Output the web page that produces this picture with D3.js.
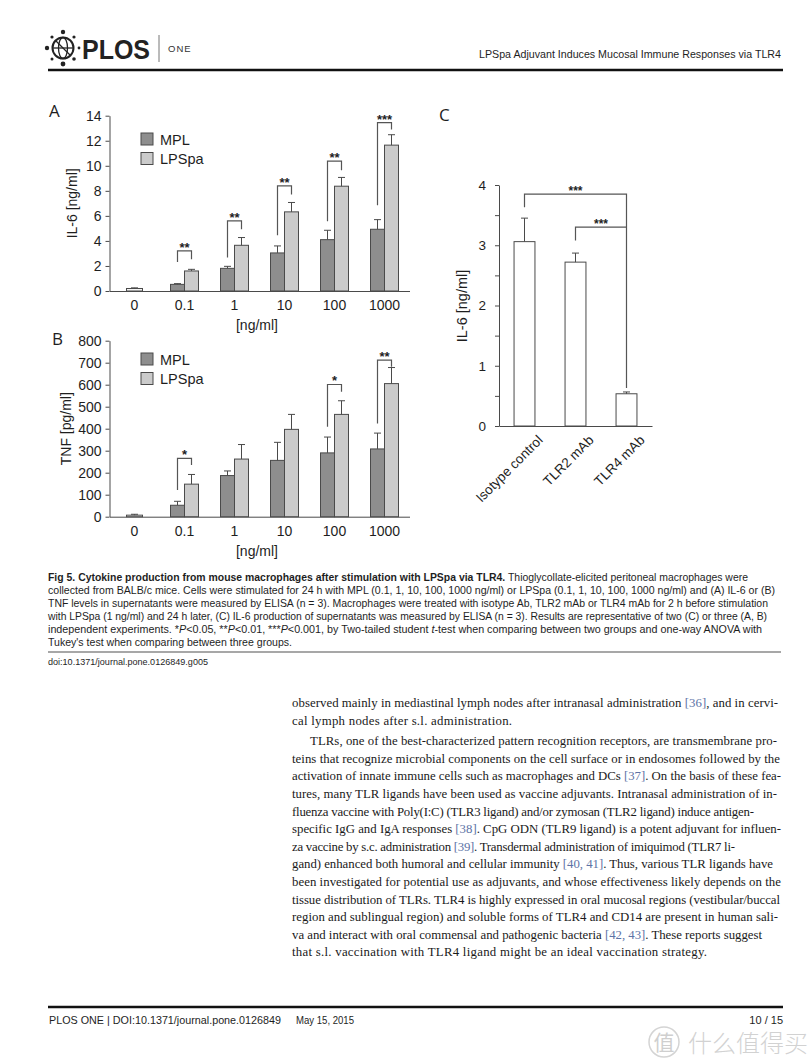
<!DOCTYPE html>
<html>
<head>
<meta charset="utf-8">
<script src="https://cdn.jsdelivr.net/npm/d3@7"></script>
<style>
  body { margin: 0; background: #fff; }
  svg { display: block; }
</style>
</head>
<body>
<svg id="page" width="811" height="1063"></svg>
<script>
// ---- data ----
var doses = ["0", "0.1", "1", "10", "100", "1000"];
var stimDoses = ["0.1", "1", "10", "100", "1000"];

// A: IL-6 [ng/ml]
var il6Control = 0.2, il6ControlErr = 0.05;
var il6Mpl = [0.53, 1.81, 3.04, 4.1, 4.93];
var il6MplErr = [0.06, 0.16, 0.56, 0.75, 0.77];
var il6Lps = [1.6, 3.65, 6.32, 8.37, 11.65];
var il6LpsErr = [0.13, 0.62, 0.75, 0.7, 0.83];
var il6Sig = ["**", "**", "**", "**", "***"];
var il6BracketTop = [3.2, 5.6, 8.4, 10.37, 13.44];
var il6BracketLeft = [2.32, 2.67, 4.45, 5.57, 6.85];
var il6BracketRight = [2.53, 4.93, 7.7, 9.65, 12.9];

// B: TNF [pg/ml]
var tnfControl = 7, tnfControlErr = 4;
var tnfMpl = [52, 187, 256, 290, 308];
var tnfMplErr = [18, 21, 82, 72, 72];
var tnfLps = [148, 262, 397, 465, 605];
var tnfLpsErr = [44, 66, 68, 62, 73];
var tnfSig = ["*", null, null, "*", "**"];
var tnfBracketTop = [265, null, null, 601, 712];
var tnfBracketLeft = [121, null, null, 409, 424];
var tnfBracketRight = [235, null, null, 568, 682];

// C: IL-6 [ng/ml] after antibody blocking
var abGroups = ["Isotype control", "TLR2 mAb", "TLR4 mAb"];
var abIl6 = [3.06, 2.72, 0.535];
var abIl6Err = [0.39, 0.15, 0.03];

var svg = d3.select("#page");
var sans = "'Liberation Sans', Arial, sans-serif";
var ink = "#1e1e1e";
var barStroke = "#4a4a4a";

// ---------- header ----------
var logo = svg.append("g").attr("transform", "translate(63,48)");
logo.append("circle").attr("r", 10.5).attr("fill", "none").attr("stroke", "#222").attr("stroke-width", 2);
logo.append("ellipse").attr("rx", 4.5).attr("ry", 10.5).attr("fill", "none").attr("stroke", "#222").attr("stroke-width", 1.3);
logo.append("line").attr("x1", -10).attr("x2", 10).attr("stroke", "#222").attr("stroke-width", 1.3);
logo.append("line").attr("x1", -7).attr("y1", -7).attr("x2", 7).attr("y2", 7).attr("stroke", "#222").attr("stroke-width", 1.3);
[[0, -16, 2.2], [11, -11, 1.6], [16, 0, 1.4], [11, 11, 1.8], [0, 16, 2.4], [-11, 11, 1.5], [-16, 0, 2.2], [-11, -11, 1.6]]
  .forEach(function(d) {
    logo.append("circle").attr("cx", d[0]).attr("cy", d[1]).attr("r", d[2]).attr("fill", "#222");
  });
svg.append("text").attr("x", 82).attr("y", 59).attr("font-family", sans).attr("font-weight", "bold")
  .attr("font-size", 27).attr("fill", "#222").attr("textLength", 68).attr("lengthAdjust", "spacingAndGlyphs").text("PLOS");
svg.append("line").attr("x1", 159).attr("x2", 159).attr("y1", 35).attr("y2", 62).attr("stroke", "#777").attr("stroke-width", 1);
svg.append("text").attr("x", 168).attr("y", 52).attr("font-family", sans).attr("font-size", 9.5)
  .attr("fill", "#333").attr("letter-spacing", 1).text("ONE");
svg.append("text").attr("x", 781).attr("y", 58).attr("text-anchor", "end").attr("font-family", sans)
  .attr("font-size", 11.5).attr("fill", ink).attr("textLength", 302).attr("lengthAdjust", "spacingAndGlyphs")
  .text("LPSpa Adjuvant Induces Mucosal Immune Responses via TLR4");
svg.append("line").attr("x1", 48).attr("x2", 783).attr("y1", 70).attr("y2", 70).attr("stroke", "#111").attr("stroke-width", 2.5);

// ---------- helpers ----------
function styleAxis(ax, size) {
  ax.selectAll("text").attr("font-family", sans).attr("font-size", size).attr("fill", ink);
  ax.selectAll("line").attr("stroke", barStroke);
  ax.select(".domain").attr("stroke", barStroke);
}

function errorBar(g, cx, y, top, base) {
  g.append("line").attr("x1", cx).attr("x2", cx).attr("y1", y(base)).attr("y2", y(top))
    .attr("stroke", barStroke).attr("stroke-width", 1);
  g.append("line").attr("x1", cx - 3.5).attr("x2", cx + 3.5).attr("y1", y(top)).attr("y2", y(top))
    .attr("stroke", barStroke).attr("stroke-width", 1);
}

function bracket(g, xl, xr, yTop, yl, yr, label, fontSize) {
  g.append("path")
    .attr("d", "M" + xl + "," + yl + "V" + yTop + "H" + xr + "V" + yr)
    .attr("fill", "none").attr("stroke", "#555").attr("stroke-width", 1.2);
  g.append("text").attr("x", (xl + xr) / 2).attr("y", yTop + 1).attr("text-anchor", "middle")
    .attr("font-family", sans).attr("font-weight", "bold").attr("font-size", fontSize).attr("fill", ink)
    .text(label);
}

// ---------- dose panels A and B ----------
function drawDosePanel(cfg) {
  var g = svg.append("g");
  var x = d3.scaleBand().domain(doses).range([109.5, 409.5]);
  var y = d3.scaleLinear().domain([0, cfg.max]).range([cfg.bottom, cfg.top]);
  var bw = x.bandwidth() * 0.28;
  var center = function(d) { return x(d) + x.bandwidth() / 2; };

  var ya = g.append("g").attr("transform", "translate(109.5,0)")
    .call(d3.axisLeft(y).tickValues(cfg.ticks).tickSize(4).tickSizeOuter(0).tickPadding(4));
  styleAxis(ya, 14);
  var xa = g.append("g").attr("transform", "translate(0," + cfg.bottom + ")")
    .call(d3.axisBottom(x).tickSize(0).tickPadding(9.5));
  styleAxis(xa, 14);

  g.append("text").attr("x", 257).attr("y", cfg.bottom + 39).attr("text-anchor", "middle")
    .attr("font-family", sans).attr("font-size", 14).attr("fill", ink).text("[ng/ml]");
  g.append("text").attr("transform", "translate(" + cfg.titleX + "," + (cfg.top + cfg.bottom) / 2 + ") rotate(-90)")
    .attr("text-anchor", "middle").attr("font-family", sans).attr("font-size", 14).attr("fill", ink)
    .text(cfg.title);
  g.append("text").attr("x", cfg.letterX).attr("y", cfg.letterY).attr("font-family", "'Open Sans', sans-serif")
    .attr("font-size", 17).attr("fill", ink).text(cfg.letter);

  // unstimulated control
  var c0 = center("0");
  g.append("rect").attr("x", c0 - 8).attr("y", y(cfg.control)).attr("width", 16)
    .attr("height", y(0) - y(cfg.control)).attr("fill", "#f4f4f4").attr("stroke", barStroke);
  errorBar(g, c0, y, cfg.control + cfg.controlErr, cfg.control);

  stimDoses.forEach(function(d, i) {
    var c = center(d);
    g.append("rect").attr("x", c - bw).attr("y", y(cfg.mpl[i])).attr("width", bw)
      .attr("height", y(0) - y(cfg.mpl[i])).attr("fill", "#8e8e8e").attr("stroke", barStroke);
    g.append("rect").attr("x", c).attr("y", y(cfg.lps[i])).attr("width", bw)
      .attr("height", y(0) - y(cfg.lps[i])).attr("fill", "#cbcbcb").attr("stroke", barStroke);
    errorBar(g, c - bw / 2, y, cfg.mpl[i] + cfg.mplErr[i], cfg.mpl[i]);
    errorBar(g, c + bw / 2, y, cfg.lps[i] + cfg.lpsErr[i], cfg.lps[i]);
    if (cfg.sig[i]) {
      bracket(g, c - bw / 2, c + bw / 2, y(cfg.bTop[i]), y(cfg.bLeft[i]), y(cfg.bRight[i]), cfg.sig[i], 13);
    }
  });

  // legend
  [["MPL", "#8e8e8e"], ["LPSpa", "#cbcbcb"]].forEach(function(s, i) {
    var ly = cfg.legendY + i * 19.5;
    g.append("rect").attr("x", 141).attr("y", ly).attr("width", 12).attr("height", 12)
      .attr("fill", s[1]).attr("stroke", barStroke);
    g.append("text").attr("x", 160).attr("y", ly + 11.5).attr("font-family", sans)
      .attr("font-size", 14.5).attr("fill", ink).text(s[0]);
  });
}

drawDosePanel({
  max: 14, top: 115.7, bottom: 291, ticks: d3.range(0, 15, 2),
  control: il6Control, controlErr: il6ControlErr,
  mpl: il6Mpl, mplErr: il6MplErr, lps: il6Lps, lpsErr: il6LpsErr,
  sig: il6Sig, bTop: il6BracketTop, bLeft: il6BracketLeft, bRight: il6BracketRight,
  title: "IL-6 [ng/ml]", titleX: 77, letter: "A", letterX: 49, letterY: 117, legendY: 133
});

drawDosePanel({
  max: 800, top: 340.7, bottom: 516.7, ticks: d3.range(0, 801, 100),
  control: tnfControl, controlErr: tnfControlErr,
  mpl: tnfMpl, mplErr: tnfMplErr, lps: tnfLps, lpsErr: tnfLpsErr,
  sig: tnfSig, bTop: tnfBracketTop, bLeft: tnfBracketLeft, bRight: tnfBracketRight,
  title: "TNF [pg/ml]", titleX: 71, letter: "B", letterX: 52, letterY: 345, legendY: 353
});

// ---------- panel C ----------
(function() {
  var g = svg.append("g");
  var x = d3.scaleBand().domain(abGroups).range([499, 652]);
  var y = d3.scaleLinear().domain([0, 4]).range([426, 185]);
  var bw = x.bandwidth() * 0.41;
  var center = function(d) { return x(d) + x.bandwidth() / 2; };

  var ya = g.append("g").attr("transform", "translate(499,0)")
    .call(d3.axisLeft(y).tickValues(d3.range(0, 4.01, 0.5)).tickSize(4).tickSizeOuter(0).tickPadding(9)
      .tickFormat(function(v) { return v % 1 === 0 ? v : ""; }));
  styleAxis(ya, 13.5);
  var xa = g.append("g").attr("transform", "translate(0,426)")
    .call(d3.axisBottom(x).tickSize(0).tickFormat(""));
  styleAxis(xa, 13);

  abGroups.forEach(function(d, i) {
    var c = center(d);
    g.append("rect").attr("x", c - bw / 2).attr("y", y(abIl6[i])).attr("width", bw)
      .attr("height", y(0) - y(abIl6[i])).attr("fill", "#fff").attr("stroke", barStroke);
    errorBar(g, c, y, abIl6[i] + abIl6Err[i], abIl6[i]);
    g.append("text").attr("transform", "translate(" + (c + 19) + ",441) rotate(-45)")
      .attr("text-anchor", "end").attr("font-family", sans).attr("font-size", 13.5).attr("fill", ink).text(d);
  });

  var c0 = center(abGroups[0]), c1 = center(abGroups[1]), c2 = center(abGroups[2]);
  bracket(g, c0, c2, y(3.85), y(3.63), y(0.63), "***", 12);
  bracket(g, c1, c2, y(3.30), y(3.08), y(3.30), "***", 12);

  g.append("text").attr("transform", "translate(467,306) rotate(-90)").attr("text-anchor", "middle")
    .attr("font-family", sans).attr("font-size", 14.5).attr("fill", ink).text("IL-6 [ng/ml]");
  g.append("text").attr("x", 439).attr("y", 121).attr("font-family", "'Open Sans', sans-serif")
    .attr("font-size", 17).attr("fill", ink).text("C");
})();

// ---------- caption ----------
var captionLines = [
  [["Fig 5. Cytokine production from mouse macrophages after stimulation with LPSpa via TLR4.", "b"], [" Thioglycollate-elicited peritoneal macrophages were", ""]],
  [["collected from BALB/c mice. Cells were stimulated for 24 h with MPL (0.1, 1, 10, 100, 1000 ng/ml) or LPSpa (0.1, 1, 10, 100, 1000 ng/ml) and (A) IL-6 or (B)", ""]],
  [["TNF levels in supernatants were measured by ELISA (n = 3). Macrophages were treated with isotype Ab, TLR2 mAb or TLR4 mAb for 2 h before stimulation", ""]],
  [["with LPSpa (1 ng/ml) and 24 h later, (C) IL-6 production of supernatants was measured by ELISA (n = 3). Results are representative of two (C) or three (A, B)", ""]],
  [["independent experiments. *", ""], ["P", "i"], ["<0.05, **", ""], ["P", "i"], ["<0.01, ***", ""], ["P", "i"], ["<0.001, by Two-tailed student ", ""], ["t", "i"], ["-test when comparing between two groups and one-way ANOVA with", ""]],
  [["Tukey's test when comparing between three groups.", ""]]
];
var captionEnds = [748, 775, 768, 767, 762, 292];
captionLines.forEach(function(parts, i) {
  var t = svg.append("text").attr("x", 48).attr("y", 581 + i * 12.9).attr("font-family", sans)
    .attr("font-size", 10.2).attr("fill", ink)
    .attr("textLength", captionEnds[i] - 48).attr("lengthAdjust", "spacingAndGlyphs");
  parts.forEach(function(p) {
    t.append("tspan").attr("font-weight", p[1] === "b" ? "bold" : null)
      .attr("font-style", p[1] === "i" ? "italic" : null).text(p[0]);
  });
});
svg.append("line").attr("x1", 48).attr("x2", 781).attr("y1", 652).attr("y2", 652).attr("stroke", "#8a8a8a").attr("stroke-width", 1.5);
svg.append("text").attr("x", 48).attr("y", 665).attr("font-family", sans).attr("font-size", 9.5).attr("fill", ink)
  .attr("textLength", 160).attr("lengthAdjust", "spacingAndGlyphs").text("doi:10.1371/journal.pone.0126849.g005");

// ---------- body text ----------
var bodyLines = [
  "observed mainly in mediastinal lymph nodes after intranasal administration [36], and in cervi-",
  "cal lymph nodes after s.l. administration.",
  "TLRs, one of the best-characterized pattern recognition receptors, are transmembrane pro-",
  "teins that recognize microbial components on the cell surface or in endosomes followed by the",
  "activation of innate immune cells such as macrophages and DCs [37]. On the basis of these fea-",
  "tures, many TLR ligands have been used as vaccine adjuvants. Intranasal administration of in-",
  "fluenza vaccine with Poly(I:C) (TLR3 ligand) and/or zymosan (TLR2 ligand) induce antigen-",
  "specific IgG and IgA responses [38]. CpG ODN (TLR9 ligand) is a potent adjuvant for influen-",
  "za vaccine by s.c. administration [39]. Transdermal administration of imiquimod (TLR7 li-",
  "gand) enhanced both humoral and cellular immunity [40, 41]. Thus, various TLR ligands have",
  "been investigated for potential use as adjuvants, and whose effectiveness likely depends on the",
  "tissue distribution of TLRs. TLR4 is highly expressed in oral mucosal regions (vestibular/buccal",
  "region and sublingual region) and soluble forms of TLR4 and CD14 are present in human sali-",
  "va and interact with oral commensal and pathogenic bacteria [42, 43]. These reports suggest",
  "that s.l. vaccination with TLR4 ligand might be an ideal vaccination strategy."
];
var bodyEnds = [778, 512, 777, 780, 781, 777, 754, 781, 735, 773, 781, 780, 778, 762, 707];
bodyLines.forEach(function(line, i) {
  var x0 = i === 2 ? 310 : 292;
  // 17.6px leading, small extra gap before the second paragraph
  var base = 707 + i * 17.6 + (i >= 2 ? 3 : 0);
  var t = svg.append("text").attr("x", x0).attr("y", base)
    .attr("font-family", "'Liberation Serif', 'Times New Roman', serif").attr("font-size", 12.8).attr("fill", "#1a1a1a")
    .attr("textLength", bodyEnds[i] - x0).attr("lengthAdjust", "spacing");
  line.split(/(\[[0-9, ]+\])/).forEach(function(seg) {
    if (!seg) return;
    t.append("tspan").attr("fill", /^\[/.test(seg) ? "#5d73a6" : null).text(seg);
  });
});

// ---------- footer ----------
svg.append("line").attr("x1", 48).attr("x2", 783).attr("y1", 1007).attr("y2", 1007).attr("stroke", "#111").attr("stroke-width", 2.5);
svg.append("text").attr("x", 49).attr("y", 1024).attr("font-family", sans).attr("font-size", 11).attr("fill", ink)
  .attr("textLength", 232).attr("lengthAdjust", "spacingAndGlyphs").text("PLOS ONE | DOI:10.1371/journal.pone.0126849");
svg.append("text").attr("x", 296).attr("y", 1024).attr("font-family", sans).attr("font-size", 11).attr("fill", ink)
  .attr("textLength", 58).attr("lengthAdjust", "spacingAndGlyphs").text("May 15, 2015");
svg.append("text").attr("x", 783).attr("y", 1024).attr("text-anchor", "end").attr("font-family", sans)
  .attr("font-size", 11).attr("fill", ink).text("10 / 15");

// watermark
svg.append("circle").attr("cx", 664).attr("cy", 1042).attr("r", 15).attr("fill", "none").attr("stroke", "#d4d4d4").attr("stroke-width", 1.5);
svg.append("text").attr("x", 664).attr("y", 1050).attr("text-anchor", "middle").attr("font-family", "'Noto Sans CJK SC', sans-serif")
  .attr("font-size", 21).attr("fill", "#cfcfcf").text("值");
svg.append("text").attr("x", 688).attr("y", 1052).attr("font-family", "'Noto Sans CJK SC', sans-serif")
  .attr("font-size", 24).attr("font-weight", 300).attr("fill", "#d2d2d2").text("什么值得买");
</script>
</body>
</html>
